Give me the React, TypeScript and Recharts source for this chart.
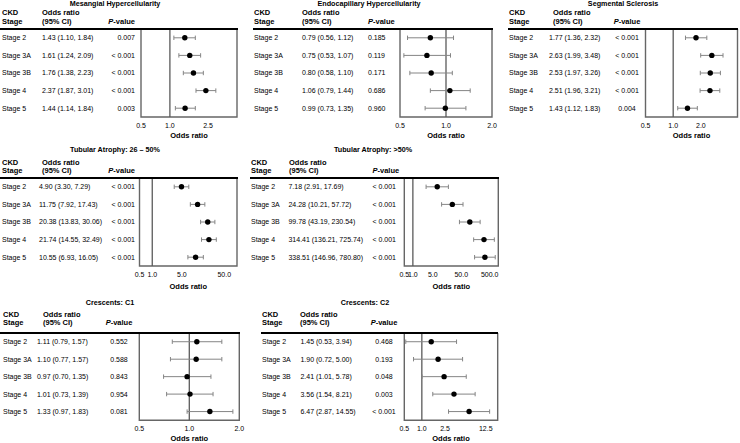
import React from 'react'
import {
  ScatterChart,
  Scatter,
  XAxis,
  YAxis,
  ErrorBar,
  ReferenceLine,
  ReferenceArea,
} from 'recharts'

const stages = ['Stage 2', 'Stage 3A', 'Stage 3B', 'Stage 4', 'Stage 5']

// Mesangial Hypercellularity
const mesOr = [1.43, 1.61, 1.76, 2.37, 1.44]
const mesLo = [1.1, 1.24, 1.38, 1.87, 1.14]
const mesHi = [1.84, 2.09, 2.23, 3.01, 1.84]
const mesP = ['0.007', '< 0.001', '< 0.001', '< 0.001', '0.003']

// Endocapillary Hypercellularity
const endoOr = [0.79, 0.75, 0.8, 1.06, 0.99]
const endoLo = [0.56, 0.53, 0.58, 0.79, 0.73]
const endoHi = [1.12, 1.07, 1.1, 1.44, 1.35]
const endoP = ['0.185', '0.119', '0.171', '0.686', '0.960']

// Segmental Sclerosis
const segOr = [1.77, 2.63, 2.53, 2.51, 1.43]
const segLo = [1.36, 1.99, 1.97, 1.96, 1.12]
const segHi = [2.32, 3.48, 3.26, 3.21, 1.83]
const segP = ['< 0.001', '< 0.001', '< 0.001', '< 0.001', '0.004']

// Tubular Atrophy 26 - 50%
const ta1Or = [4.9, 11.75, 20.38, 21.74, 10.55]
const ta1Lo = [3.3, 7.92, 13.83, 14.55, 6.93]
const ta1Hi = [7.29, 17.43, 30.06, 32.49, 16.05]
const ta1P = ['< 0.001', '< 0.001', '< 0.001', '< 0.001', '< 0.001']

// Tubular Atrophy >50%
const ta2Or = [7.18, 24.28, 99.78, 314.41, 338.51]
const ta2Lo = [2.91, 10.21, 43.19, 136.21, 146.96]
const ta2Hi = [17.69, 57.72, 230.54, 725.74, 780.8]
const ta2P = ['< 0.001', '< 0.001', '< 0.001', '< 0.001', '< 0.001']

// Crescents C1
const c1Or = [1.11, 1.1, 0.97, 1.01, 1.33]
const c1Lo = [0.79, 0.77, 0.7, 0.73, 0.97]
const c1Hi = [1.57, 1.57, 1.35, 1.39, 1.83]
const c1P = ['0.552', '0.588', '0.843', '0.954', '0.081']

// Crescents C2
const c2Or = [1.45, 1.9, 2.41, 3.56, 6.47]
const c2Lo = [0.53, 0.72, 1.01, 1.54, 2.87]
const c2Hi = [3.94, 5.0, 5.78, 8.21, 14.55]
const c2P = ['0.468', '0.193', '0.048', '0.003', '< 0.001']

const FONT = 'Arial, "Liberation Sans", Helvetica, sans-serif'
const BOX = '#666'
const WHISKER = '#858585'

type Anchor = 'start' | 'middle' | 'end'

interface VRow {
  title: number
  h1: number
  h2: number
  rule: number
  boxB: number
  axisTitle: number
}

const vTop: VRow = { title: 4.3, h1: 13.3, h2: 22.3, rule: 29.3, boxB: 117.3, axisTitle: 136 }
const vMid: VRow = { title: 150, h1: 162.7, h2: 171, rule: 178, boxB: 266, axisTitle: 286.5 }
const vBot: VRow = { title: 303.3, h1: 315, h2: 323.3, rule: 332.7, boxB: 420, axisTitle: 439.3 }

interface PanelCfg {
  title: string
  or: number[]
  lo: number[]
  hi: number[]
  p: string[]
  domain: [number, number]
  ticks: number[]
  v: VRow
  x0: number
  titleX: number
  stageX: number
  orHeadX: number
  orX: number
  pX: number
  pAnchor: Anchor
  boxL: number
  boxR: number
}

const panels: PanelCfg[] = [
  {
    title: 'Mesangial Hypercellularity',
    or: mesOr, lo: mesLo, hi: mesHi, p: mesP,
    domain: [0.5, 5], ticks: [0.5, 1, 2.5], v: vTop,
    x0: 0, titleX: 115, stageX: 2, orHeadX: 42, orX: 42, pX: 135, pAnchor: 'end',
    boxL: 141, boxR: 237,
  },
  {
    title: 'Endocapillary Hypercellularity',
    or: endoOr, lo: endoLo, hi: endoHi, p: endoP,
    domain: [0.5, 2], ticks: [0.5, 1, 2], v: vTop,
    x0: 253, titleX: 369, stageX: 254, orHeadX: 302, orX: 302, pX: 368, pAnchor: 'start',
    boxL: 400, boxR: 492,
  },
  {
    title: 'Segmental Sclerosis',
    or: segOr, lo: segLo, hi: segHi, p: segP,
    domain: [0.5, 5], ticks: [0.5, 1, 2], v: vTop,
    x0: 508, titleX: 623, stageX: 509, orHeadX: 553, orX: 549, pX: 627, pAnchor: 'middle',
    boxL: 645.5, boxR: 737.5,
  },
  {
    title: 'Tubular Atrophy: 26 \u2013 50%',
    or: ta1Or, lo: ta1Lo, hi: ta1Hi, p: ta1P,
    domain: [0.5, 100], ticks: [0.5, 1, 5, 50], v: vMid,
    x0: 0, titleX: 115, stageX: 2, orHeadX: 42, orX: 39, pX: 135, pAnchor: 'end',
    boxL: 139.5, boxR: 237,
  },
  {
    title: 'Tubular Atrophy: >50%',
    or: ta2Or, lo: ta2Lo, hi: ta2Hi, p: ta2P,
    domain: [0.5, 1000], ticks: [0.5, 1, 5, 50, 500], v: vMid,
    x0: 250, titleX: 373, stageX: 251, orHeadX: 289, orX: 288.5, pX: 372.5, pAnchor: 'start',
    boxL: 404.3, boxR: 498.3,
  },
  {
    title: 'Crescents: C1',
    or: c1Or, lo: c1Lo, hi: c1Hi, p: c1P,
    domain: [0.5, 2], ticks: [0.5, 1, 2], v: vBot,
    x0: 0, titleX: 110, stageX: 3, orHeadX: 43, orX: 37, pX: 119, pAnchor: 'middle',
    boxL: 139.3, boxR: 239.3,
  },
  {
    title: 'Crescents: C2',
    or: c2Or, lo: c2Lo, hi: c2Hi, p: c2P,
    domain: [0.5, 20], ticks: [0.5, 1, 2.5, 12.5], v: vBot,
    x0: 261, titleX: 365, stageX: 262, orHeadX: 300, orX: 300.5, pX: 384, pAnchor: 'middle',
    boxL: 404.3, boxR: 497.7,
  },
]

function Label({
  x,
  y,
  anchor = 'start',
  size = 7,
  bold = false,
  children,
}: {
  x: number
  y: number
  anchor?: Anchor
  size?: number
  bold?: boolean
  children: React.ReactNode
}) {
  const tx = anchor === 'start' ? '0' : anchor === 'middle' ? '-50%' : '-100%'
  return (
    <div
      style={{
        position: 'absolute',
        left: x,
        top: y,
        transform: `translate(${tx}, -50%)`,
        fontSize: size,
        fontWeight: bold ? 700 : 400,
        lineHeight: 1,
        whiteSpace: 'nowrap',
        color: '#000',
      }}
    >
      {children}
    </div>
  )
}

const fmtCI = (o: number, l: number, h: number) =>
  `${o.toFixed(2)} (${l.toFixed(2)}, ${h.toFixed(2)})`

function ForestPanel({ cfg }: { cfg: PanelCfg }) {
  const { v } = cfg
  const data = stages.map((s, i) => ({
    stage: s,
    row: i + 1,
    or: cfg.or[i],
    err: [cfg.or[i] - cfg.lo[i], cfg.hi[i] - cfg.or[i]],
  }))
  const chartW = cfg.boxR - cfg.x0 + 12
  const axisH = 16
  const chartH = v.boxB - v.rule + axisH

  // eslint-disable-next-line @typescript-eslint/no-explicit-any
  const rowTick = (props: any) => {
    const i = Number(props.payload.value) - 1
    if (i < 0 || i > 4) return <g />
    return (
      <g fontSize={7} fill="#000">
        <text x={cfg.stageX - cfg.x0} y={props.y} dy="0.35em">
          {stages[i]}
        </text>
        <text x={cfg.orX - cfg.x0} y={props.y} dy="0.35em">
          {fmtCI(cfg.or[i], cfg.lo[i], cfg.hi[i])}
        </text>
        <text x={cfg.pX - cfg.x0} y={props.y} dy="0.35em" textAnchor={cfg.pAnchor}>
          {cfg.p[i]}
        </text>
      </g>
    )
  }

  return (
    <>
      <Label x={cfg.titleX} y={v.title} anchor="middle" size={7.2} bold>
        {cfg.title}
      </Label>
      <Label x={cfg.stageX} y={v.h1} size={7.5} bold>CKD</Label>
      <Label x={cfg.stageX} y={v.h2} size={7.5} bold>Stage</Label>
      <Label x={cfg.orHeadX} y={v.h1} size={7.5} bold>Odds ratio</Label>
      <Label x={cfg.orHeadX} y={v.h2} size={7.5} bold>(95% CI)</Label>
      <Label x={cfg.pX} y={v.h2} anchor={cfg.pAnchor} size={7.5} bold>
        <i>P</i>-value
      </Label>
      <div style={{ position: 'absolute', left: cfg.x0, top: v.rule }}>
        <ScatterChart
          width={chartW}
          height={chartH}
          margin={{ top: 0, right: 12, bottom: 0, left: 0 }}
        >
          <XAxis
            type="number"
            dataKey="or"
            scale="log"
            domain={cfg.domain}
            allowDataOverflow
            ticks={cfg.ticks}
            interval={0}
            height={axisH}
            axisLine={false}
            tickLine={false}
            tickSize={0}
            tickMargin={6}
            tick={{ fontSize: 7, fill: '#000' }}
            tickFormatter={(t: number) => t.toFixed(1)}
          />
          <YAxis
            type="number"
            dataKey="row"
            domain={[0.5, 5.5]}
            reversed
            ticks={[1, 2, 3, 4, 5]}
            interval={0}
            width={cfg.boxL - cfg.x0}
            axisLine={false}
            tickLine={false}
            tick={rowTick}
          />
          <ReferenceArea
            x1={cfg.domain[0]}
            x2={cfg.domain[1]}
            y1={0.5}
            y2={5.5}
            fill="#fff"
            fillOpacity={0}
            stroke={BOX}
            strokeWidth={1.4}
          />
          <ReferenceLine x={1} stroke="#5a5a5a" strokeWidth={1.3} />
          <Scatter
            data={data}
            isAnimationActive={false}
            shape={(p: { cx?: number; cy?: number }) => (
              <circle cx={p.cx} cy={p.cy} r={2.7} fill="#000" />
            )}
          >
            <ErrorBar dataKey="err" direction="x" width={2.2} stroke={WHISKER} strokeWidth={1} />
          </Scatter>
        </ScatterChart>
      </div>
      <div
        style={{
          position: 'absolute',
          left: cfg.x0,
          top: v.rule - 1,
          width: cfg.boxR - cfg.x0 + 0.7,
          height: 2,
          background: '#000',
        }}
      />
      <Label x={(cfg.boxL + cfg.boxR) / 2} y={v.axisTitle} anchor="middle" size={7.5} bold>
        Odds ratio
      </Label>
    </>
  )
}

export default function App() {
  return (
    <div
      style={{
        position: 'absolute',
        left: 0,
        top: 0,
        width: 740,
        height: 443,
        background: '#fff',
        fontFamily: FONT,
        overflow: 'hidden',
      }}
    >
      {panels.map((cfg) => (
        <ForestPanel key={cfg.title} cfg={cfg} />
      ))}
    </div>
  )
}
